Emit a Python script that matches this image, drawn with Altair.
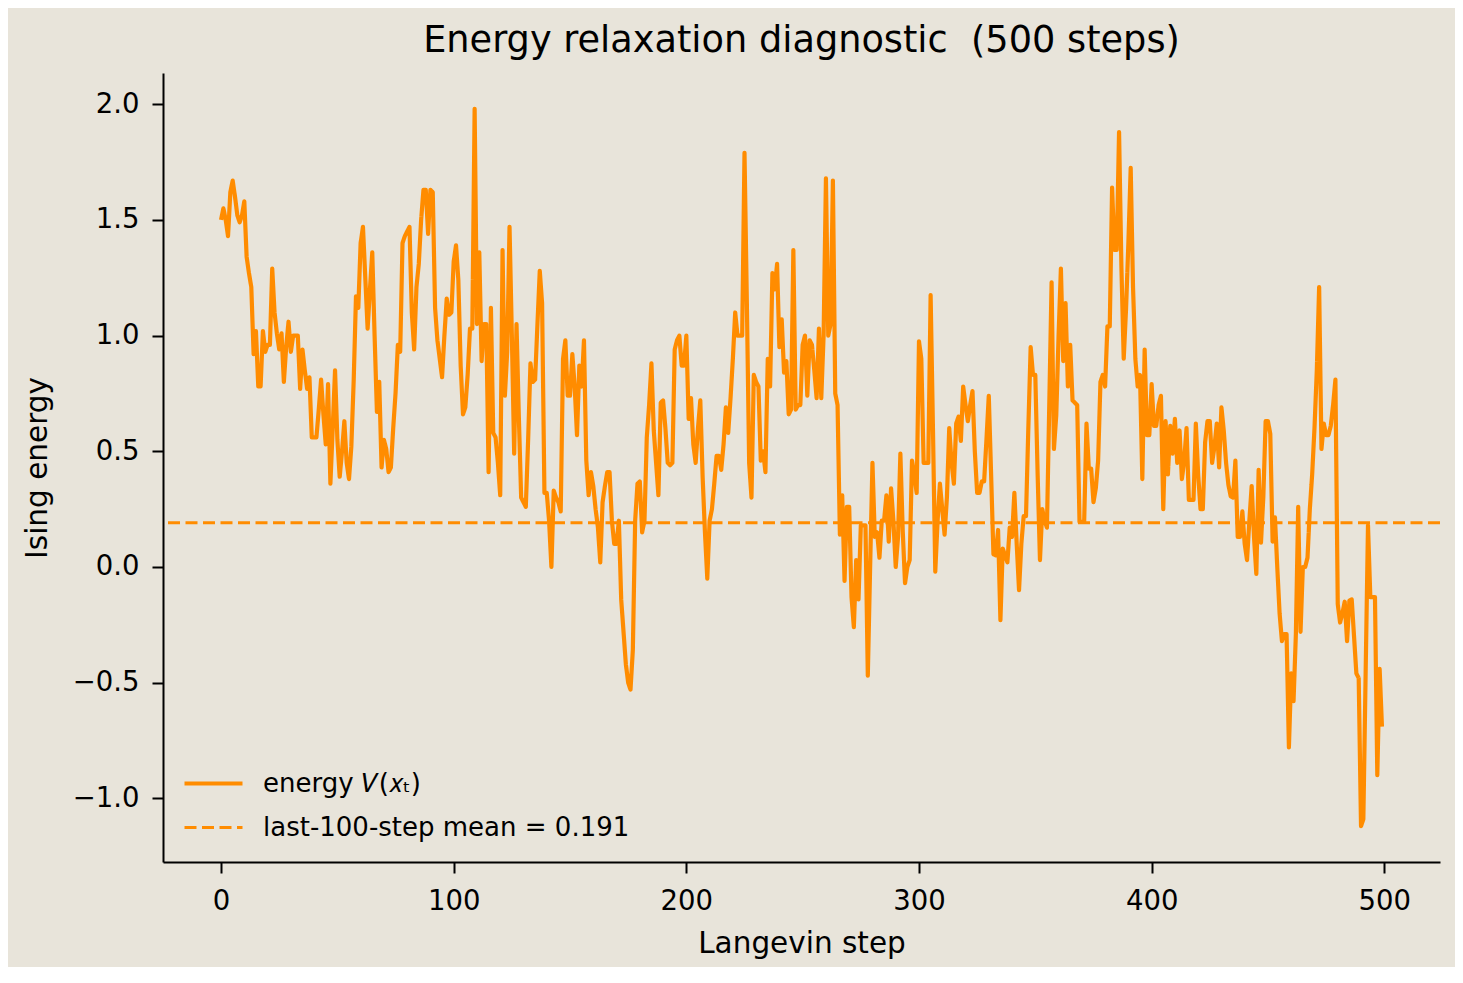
import altair as alt
import pandas as pd

# ---- data ----
steps = list(range(500))
energy = [
    1.50, 1.55, 1.50, 1.43, 1.62, 1.67, 1.60, 1.52, 1.49, 1.52,
    1.58, 1.34, 1.27, 1.21, 0.92, 1.02, 0.78, 0.78, 1.02, 0.93,
    0.96, 0.96, 1.29, 1.10, 1.01, 0.94, 1.01, 0.80, 0.95, 1.06,
    0.93, 1.00, 1.00, 1.00, 0.77, 0.94, 0.85, 0.77, 0.82, 0.56,
    0.56, 0.56, 0.68, 0.81, 0.66, 0.53, 0.79, 0.36, 0.60, 0.85,
    0.55, 0.39, 0.50, 0.63, 0.45, 0.38, 0.52, 0.80, 1.17, 1.12,
    1.40, 1.47, 1.25, 1.03, 1.20, 1.36, 1.00, 0.67, 0.80, 0.43,
    0.55, 0.51, 0.41, 0.43, 0.60, 0.75, 0.96, 0.93, 1.40, 1.43,
    1.45, 1.47, 1.10, 0.94, 1.21, 1.31, 1.50, 1.63, 1.63, 1.44,
    1.63, 1.62, 1.12, 0.98, 0.90, 0.82, 1.00, 1.16, 1.09, 1.10,
    1.32, 1.39, 1.24, 0.87, 0.66, 0.69, 0.83, 1.03, 1.03, 1.98,
    1.05, 1.36, 0.89, 1.05, 1.05, 0.41, 1.12, 0.58, 0.56, 0.45,
    0.31, 1.37, 0.74, 0.93, 1.47, 1.00, 0.49, 1.05, 0.65, 0.30,
    0.28, 0.26, 0.55, 0.88, 0.80, 0.81, 1.05, 1.28, 1.14, 0.32,
    0.32, 0.20, 0.00, 0.33, 0.30, 0.28, 0.24, 0.90, 0.98, 0.74,
    0.74, 0.92, 0.78, 0.57, 0.87, 0.78, 0.98, 0.46, 0.31, 0.41,
    0.35, 0.25, 0.17, 0.02, 0.28, 0.35, 0.41, 0.41, 0.20, 0.10,
    0.10, 0.20, -0.14, -0.28, -0.42, -0.50, -0.53, -0.36, 0.20, 0.36,
    0.37, 0.15, 0.20, 0.56, 0.70, 0.88, 0.59, 0.45, 0.31, 0.71,
    0.72, 0.60, 0.45, 0.44, 0.45, 0.94, 0.98, 1.00, 0.87, 0.87,
    1.00, 0.64, 0.73, 0.53, 0.45, 0.60, 0.72, 0.39, 0.15, -0.05,
    0.20, 0.25, 0.36, 0.48, 0.48, 0.42, 0.53, 0.69, 0.58, 0.73,
    0.90, 1.10, 1.00, 1.00, 1.00, 1.79, 1.15, 0.45, 0.30, 0.83,
    0.80, 0.78, 0.46, 0.50, 0.41, 0.90, 0.78, 1.27, 1.20, 1.31,
    0.95, 1.07, 0.84, 0.89, 0.66, 0.68, 1.37, 0.68, 0.70, 0.70,
    0.96, 1.00, 0.74, 0.98, 0.96, 0.85, 0.73, 1.03, 0.73, 1.00,
    1.68, 1.00, 1.05, 1.67, 0.75, 0.70, 0.14, 0.31, -0.06, 0.26,
    0.26, -0.13, -0.26, 0.03, -0.14, 0.18, 0.18, 0.18, -0.47, 0.00,
    0.45, 0.13, 0.15, 0.04, 0.20, 0.20, 0.31, 0.11, 0.34, 0.20,
    0.00, 0.13, 0.49, 0.16, -0.07, 0.00, 0.03, 0.46, 0.40, 0.32,
    0.975, 0.90, 0.45, 0.45, 0.45, 1.175, 0.60, -0.02, 0.20, 0.36,
    0.25, 0.14, 0.30, 0.60, 0.45, 0.36, 0.62, 0.65, 0.545, 0.78,
    0.70, 0.63, 0.70, 0.76, 0.50, 0.32, 0.32, 0.37, 0.37, 0.55,
    0.74, 0.40, 0.055, 0.05, 0.16, -0.23, 0.08, 0.05, 0.02, 0.17,
    0.13, 0.32, 0.10, -0.10, 0.10, 0.22, 0.22, 0.60, 0.95, 0.83,
    0.83, 0.40, 0.03, 0.25, 0.20, 0.17, 0.70, 1.23, 0.51, 0.655,
    1.00, 1.29, 0.89, 1.14, 0.78, 0.96, 0.72, 0.71, 0.70, 0.195,
    0.195, 0.195, 0.62, 0.425, 0.425, 0.28, 0.34, 0.46, 0.80, 0.83,
    0.78, 1.04, 1.04, 1.64, 1.37, 1.37, 1.88, 1.30, 0.90, 1.115,
    1.40, 1.725, 1.21, 0.90, 0.78, 0.83, 0.38, 0.94, 0.57, 0.57,
    0.79, 0.61, 0.61, 0.70, 0.74, 0.25, 0.63, 0.40, 0.61, 0.49,
    0.64, 0.45, 0.59, 0.38, 0.46, 0.60, 0.29, 0.29, 0.29, 0.62,
    0.40, 0.25, 0.25, 0.54, 0.63, 0.63, 0.45, 0.52, 0.62, 0.43,
    0.69, 0.59, 0.45, 0.355, 0.305, 0.30, 0.46, 0.13, 0.13, 0.24,
    0.10, 0.03, 0.20, 0.35, 0.13, -0.03, 0.42, 0.105, 0.30, 0.63,
    0.63, 0.575, 0.11, 0.215, 0.00, -0.20, -0.32, -0.29, -0.29, -0.78,
    -0.46, -0.58, -0.29, 0.26, -0.28, 0.00, 0.00, 0.04, 0.25, 0.40,
    0.60, 0.85, 1.21, 0.51, 0.62, 0.57, 0.57, 0.61, 0.70, 0.81,
    -0.16, -0.24, -0.20, -0.15, -0.32, -0.145, -0.14, -0.30, -0.46, -0.48,
    -1.12, -1.09, -0.45, 0.18, -0.13, -0.13, -0.13, -0.90, -0.44, -0.69,
]
mean_value = [0.191]
series_names = ["energy \U0001D449(\U0001D465\u209C)", "last-100-step mean = 0.191"]
x_ticks = [0, 100, 200, 300, 400, 500]
y_ticks = [-1.0, -0.5, 0.0, 0.5, 1.0, 1.5, 2.0]

ORANGE = "#ff8c00"
BG = "#e8e4da"
FONT = "DejaVu Sans"
LINE_W = 4.2
DASH_W = 3.0

df_line = pd.DataFrame({"step": steps, "energy": energy, "series": series_names[0]})
df_mean = pd.DataFrame({"energy": mean_value, "series": [series_names[1]]})

legend = alt.Legend(title=None, orient="none", legendX=19, legendY=679)
color_enc = alt.Color("series:O", scale=alt.Scale(domain=series_names, range=[ORANGE, ORANGE]), legend=legend)
dash_enc = alt.StrokeDash("series:O", scale=alt.Scale(domain=series_names, range=[[1, 0], [12, 5.5]]), legend=legend)
width_enc = alt.StrokeWidth("series:O", scale=alt.Scale(domain=series_names, range=[LINE_W, DASH_W]), legend=legend)

x_enc = alt.X(
    "step:Q",
    scale=alt.Scale(domain=[-24.95, 523.95], nice=False, zero=False),
    axis=alt.Axis(values=x_ticks, format="d", title="Langevin step", labelPadding=14,
                  titleBaseline="alphabetic", titleY=90),
)
y_enc = alt.Y(
    "energy:Q",
    scale=alt.Scale(domain=[-1.275, 2.135], nice=False, zero=False),
    axis=alt.Axis(values=y_ticks, format=".1f", title="Ising energy", labelPadding=13,
                  titleBaseline="alphabetic", titleX=-117, titleY=394.5, titleAngle=270),
)

line = alt.Chart(df_line).mark_line(strokeJoin="round", strokeWidth=LINE_W, clip=True).encode(
    x=x_enc, y=y_enc, color=color_enc, strokeDash=dash_enc, strokeWidth=width_enc
)
rule = alt.Chart(df_mean).mark_rule(strokeWidth=DASH_W).encode(
    y=alt.Y("energy:Q"), color=color_enc, strokeDash=dash_enc, strokeWidth=width_enc
)

chart = (
    alt.layer(line, rule)
    .properties(
        width=1277,
        height=789,
        autosize=alt.AutoSizeParams(type="none"),
        padding={"left": 155, "top": 65, "right": 15, "bottom": 105},
        background=BG,
        title=alt.TitleParams(
            "Energy relaxation diagnostic \u00a0(500 steps)",
            font=FONT, fontSize=36.7, fontWeight="normal", color="black",
            anchor="middle", baseline="alphabetic", offset=-16,
        ),
    )
    .configure_view(strokeWidth=0)
    .configure_axis(
        grid=False,
        domainColor="black", domainWidth=2,
        tickColor="black", tickWidth=2, tickSize=11,
        labelFont=FONT, labelFontSize=27.5, labelColor="black",
        titleFont=FONT, titleFontSize=29.5, titleFontWeight="normal", titleColor="black",
    )
    .configure_legend(
        padding=0,
        labelFont=FONT, labelFontSize=26, labelColor="black", labelLimit=0,
        symbolType="stroke", symbolSize=3364, labelOffset=18, rowPadding=-6,
    )
)

chart.save("out.html", embed_options={"renderer": "svg", "actions": False})
